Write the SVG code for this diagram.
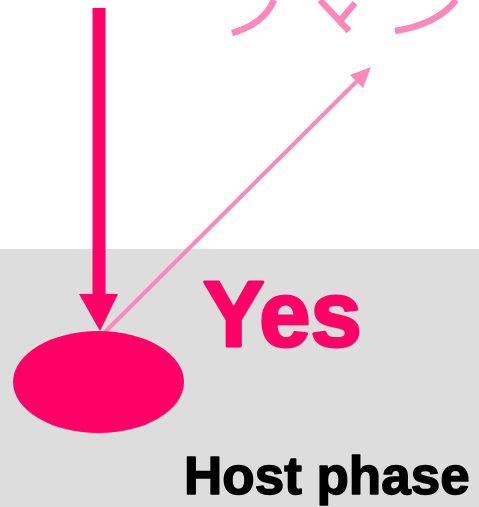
<svg xmlns="http://www.w3.org/2000/svg" width="479" height="507" viewBox="0 0 479 507">
<style>
.curve{fill:none;stroke:#FF88BB;stroke-width:6.5}
.big{font-family:"Liberation Sans",Arial,sans-serif;font-weight:bold;stroke-linejoin:round}
</style>
<rect x="0" y="249" width="479" height="258" fill="#DDDDDD"/>
<g id="cloud-fragment">
<path class="curve" d="M232,33 Q264,24 274,0"/>
<path class="curve" d="M349,31 L320,0 M340,21 L355,3"/>
<path class="curve" d="M395,31 Q438,24 456,0"/>
</g>
<g id="connectors">
<line x1="99" y1="8" x2="99" y2="296" stroke="#FF0066" stroke-width="13"/>
<polygon points="79,294 118,294 100,331" fill="#FF0066"/>
<line x1="104" y1="333" x2="360" y2="78" stroke="#FF88BB" stroke-width="4"/>
<polygon points="371,67 363,88 350,75" fill="#FF88BB"/>
</g>
<g id="node-ellipse">
<ellipse cx="98.5" cy="382" rx="85.5" ry="51" fill="#FF0066"/>
</g>
<g id="label-yes">
<text class="big" x="203" y="346" font-size="92" fill="#FF0066" stroke="#FF0066" stroke-width="3">Yes</text>
</g>
<g id="label-host">
<text class="big" x="184" y="494" font-size="53" fill="#000000" stroke="#000000" stroke-width="1.5">Host phase</text>
</g>
</svg>
